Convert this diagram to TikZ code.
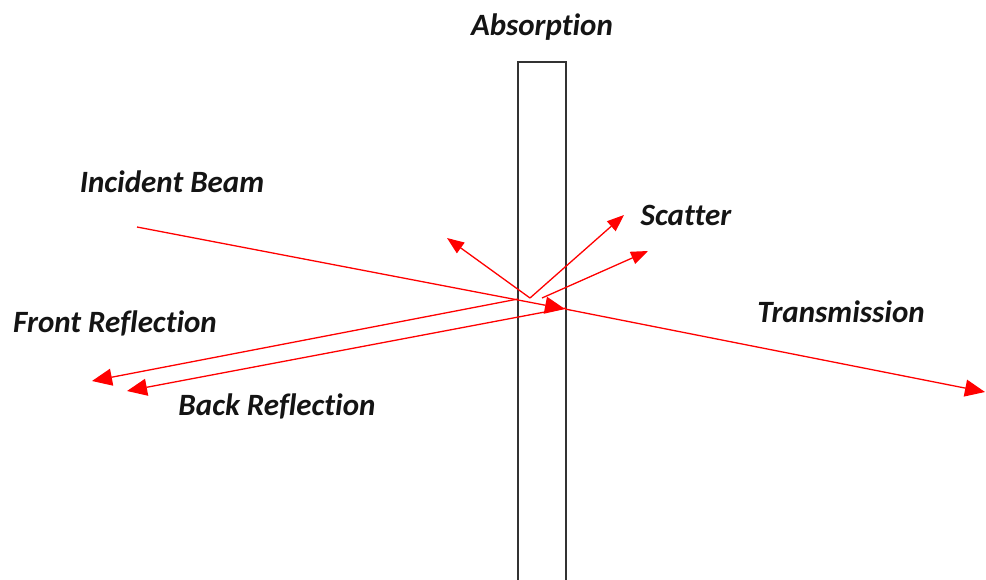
\documentclass[tikz,border=0pt]{standalone}
\usepackage{fontspec}
\setmainfont{Carlito}[Ligatures=NoCommon]
\usetikzlibrary{arrows.meta}
\begin{document}
\begin{tikzpicture}[x=1pt,y=-1pt,
  ray/.style={draw={rgb,255:red,255;green,0;blue,0}, line width=1.3pt},
  bighead/.style={-{Triangle[length=20pt,width=17pt]}},
  smallhead/.style={-{Triangle[length=17pt,width=13pt]}},
  lbl/.style={font=\fontsize{31}{37}\selectfont\bfseries\itshape, text={rgb,255:red,20;green,20;blue,20}, inner sep=0pt}]
\useasboundingbox (0,0) rectangle (986,579);
% slab
\draw[line width=1.3pt, draw={rgb,255:red,50;green,50;blue,50}] (518,585) |- (566,62) -- (566,585);
% points
\coordinate (inc) at (137,227);
\coordinate (hitB) at (565,309);
\coordinate (trans) at (985,392);
\coordinate (frontS) at (518,299);
\coordinate (frontE) at (92,381);
\coordinate (backS) at (566,308);
\coordinate (backE) at (127,391);
\coordinate (scS) at (530,298);
\coordinate (scA) at (447,238);
\coordinate (scB) at (624,215);
\coordinate (scS2) at (542,298);
\coordinate (scC) at (648,251);
% rays
\draw[ray, bighead] (inc) -- (hitB);
\draw[ray, bighead] (hitB) -- (trans);
\draw[ray, bighead] (frontS) -- (frontE);
\draw[ray, bighead] (backS) -- (backE);
\draw[ray, smallhead] (scS) -- (scA);
\draw[ray, smallhead] (scS) -- (scB);
\draw[ray, smallhead] (scS2) -- (scC);
% labels
\node[lbl] (tAbs) at (542,27) {Absorption};
\node[lbl] (tInc) at (172,182) {Incident Beam};
\node[lbl] (tSc) at (686,215) {Scatter};
\node[lbl] (tFr) at (115,323) {Front Reflection};
\node[lbl] (tTr) at (841,312) {Transmission};
\node[lbl] (tBr) at (277,406) {Back Reflection};
\end{tikzpicture}
\end{document}
